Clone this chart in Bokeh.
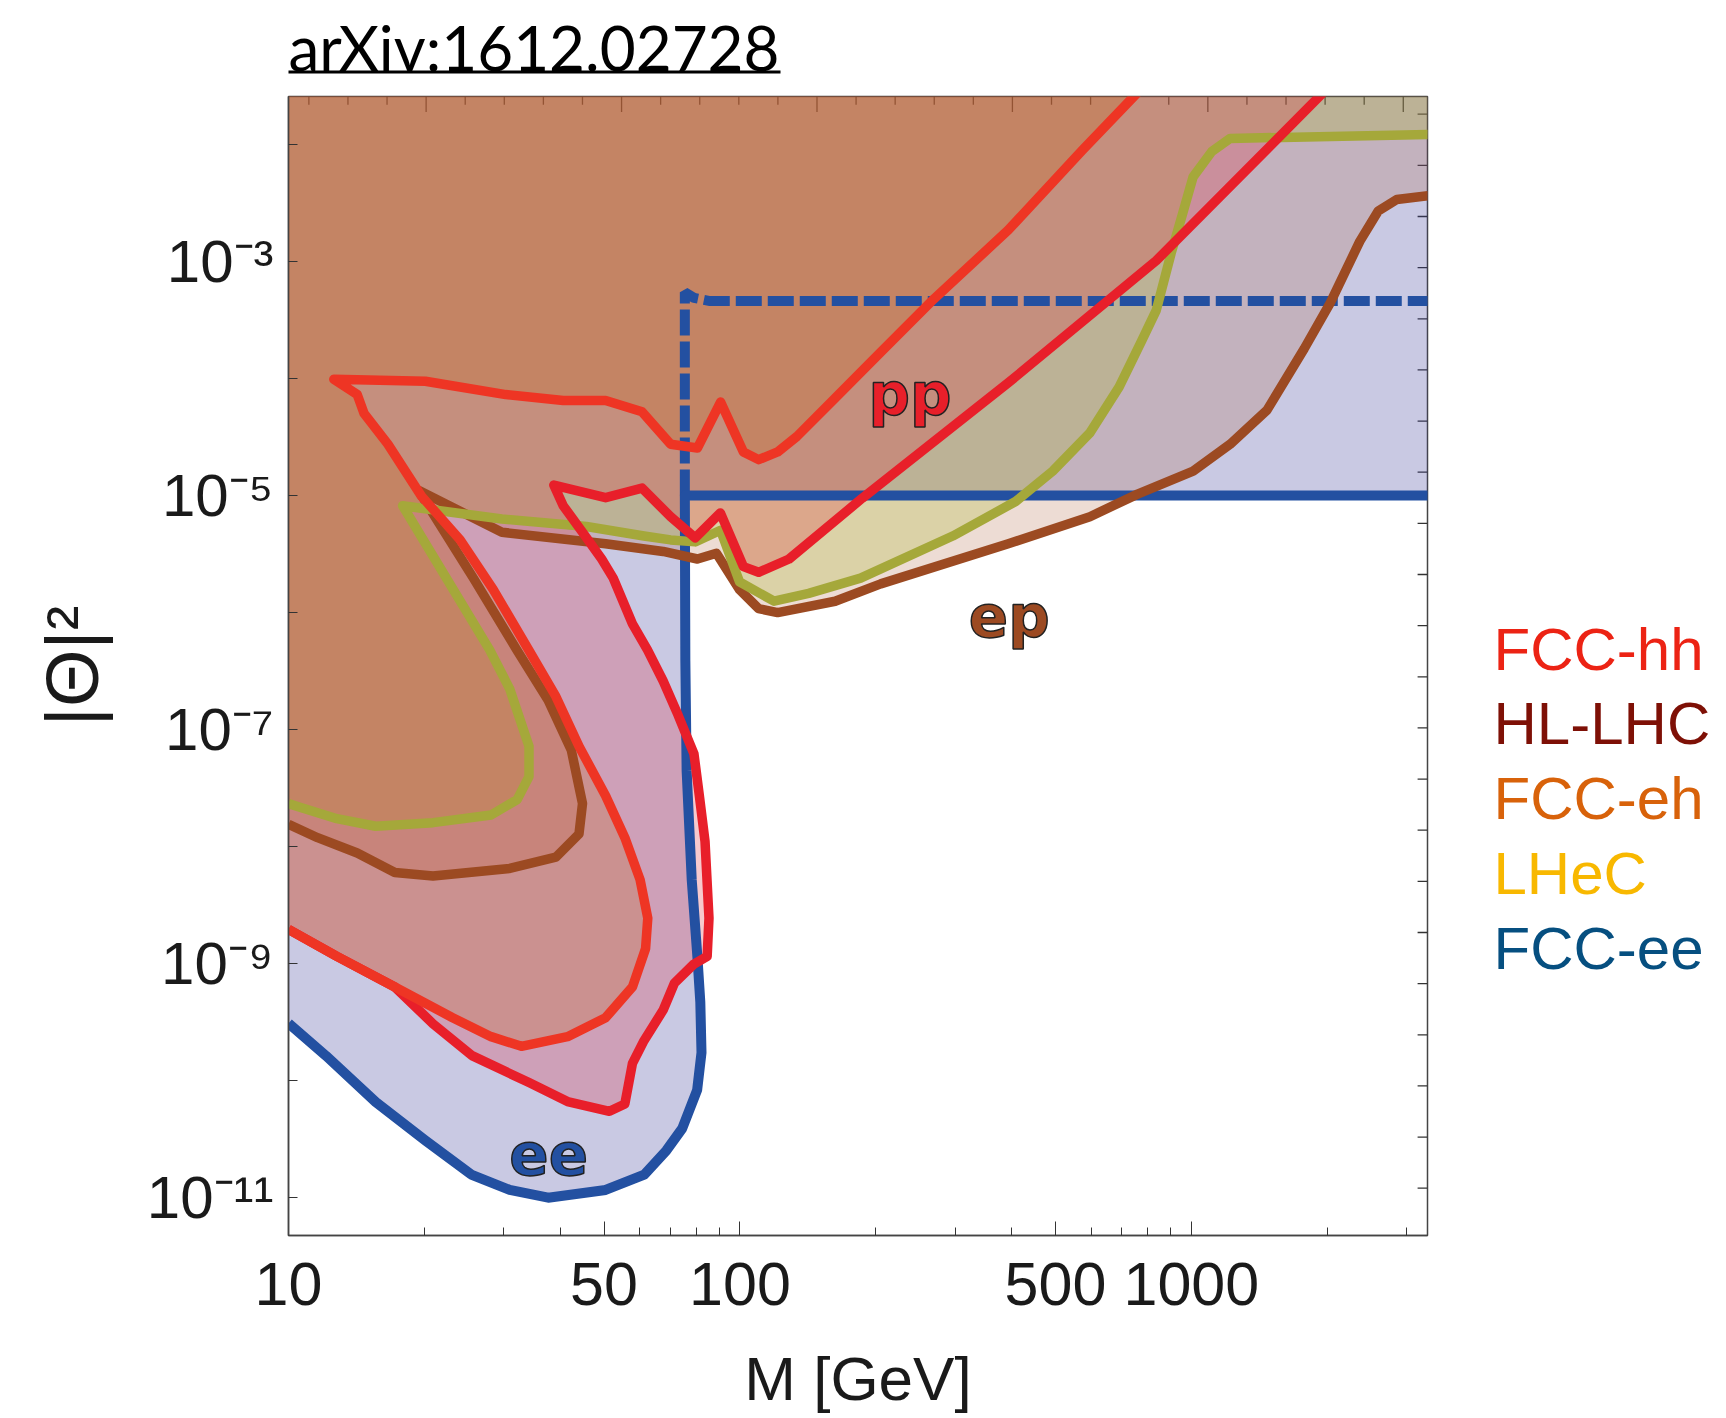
from bokeh.plotting import figure
from bokeh.layouts import column, row
from bokeh.models import FixedTicker, Range1d, LinearScale
from bokeh.embed import file_html
from bokeh.resources import INLINE
from bokeh.core.properties import value

# ---------------- data (M in GeV, |Theta|^2) ----------------
# FCC-ee (ee), solid contour
ee_m = [10, 12.1, 15.6, 20.1, 25.4, 30.9, 37.6, 50.4, 61.4, 68.7, 74.5, 80.4, 82.2, 81.7,
        80.5, 78.2, 76.2, 75.7, 75.5, 3400]
ee_t = [3.08e-10, 1.63e-10, 6.55e-11, 3.07e-11, 1.57e-11, 1.16e-11, 9.95e-12, 1.16e-11,
        1.57e-11, 2.52e-11, 3.89e-11, 8.3e-11, 1.73e-10, 4.7e-10, 1.14e-9, 5.2e-9, 4.43e-8,
        3.86e-7, 1e-5, 1e-5]
# FCC-ee dashed contour
eed_m = [75.5, 75.5, 79.1, 85.9, 3400]
eed_t = [1e-5, 5.46e-4, 4.9e-4, 4.6e-4, 4.6e-4]

# pp, FCC-hh (crimson)
hh_m = [10, 12.8, 17.2, 20.9, 25.5, 34.1, 41.5, 51.4, 55.6, 57.8, 61.3, 67.6, 71.6, 79.1,
        84.6, 85.4, 83.7, 81.3, 79.1, 73.0, 67.6, 62.4, 57.8, 52.4, 49.4, 44.8, 40.6, 38.7,
        50.4, 60.7, 70.2, 79.6, 90.5, 101.8, 110, 128.5, 186.6, 393, 836, 1919, 2432]
hh_t = [1.96e-9, 1.15e-9, 6.3e-10, 3.05e-10, 1.63e-10, 9.6e-11, 6.6e-11, 5.45e-11, 6.3e-11,
        1.4e-10, 2.19e-10, 4.0e-10, 6.8e-10, 9.9e-10, 1.15e-9, 2.44e-9, 1.1e-8, 2.72e-8,
        6.2e-8, 1.32e-7, 2.6e-7, 4.8e-7, 8.0e-7, 1.97e-6, 2.87e-6, 4.86e-6, 8.2e-6, 1.23e-5,
        9.6e-6, 1.16e-5, 6.6e-6, 4.35e-6, 7.1e-6, 2.47e-6, 2.21e-6, 2.87e-6, 9.5e-6, 9.2e-5,
        1.02e-3, 2.57e-2, 6.5e-2]

# pp, HL-LHC (orange-red)
hl_m = [10, 12.8, 17.2, 23.1, 28.1, 32.8, 41.5, 50.4, 57.8, 61.8, 62.5, 60.1, 55.6, 50.4,
        44.0, 39.1, 34.1, 28.4, 24.0, 19.7, 16.6, 14.7, 14.2, 12.6, 20.1, 30.3, 40.6, 50.4,
        60.7, 70.2, 80.5, 90.6, 101.8, 110, 121.2, 133.7, 162.5, 204.6, 269, 393, 574, 747, 940]
hl_t = [1.96e-9, 1.15e-9, 6.3e-10, 3.44e-10, 2.37e-10, 1.96e-10, 2.37e-10, 3.44e-10, 6.3e-10,
        1.34e-9, 2.44e-9, 5.2e-9, 1.19e-8, 2.72e-8, 7.2e-8, 1.92e-7, 4.74e-7, 1.58e-6, 4.18e-6,
        9.9e-6, 2.75e-5, 5.04e-5, 7.3e-5, 9.87e-5, 9.5e-5, 7.3e-5, 6.5e-5, 6.5e-5, 5.2e-5,
        2.75e-5, 2.55e-5, 6.3e-5, 2.36e-5, 2.03e-5, 2.36e-5, 3.2e-5, 6.8e-5, 1.67e-4, 4.8e-4,
        1.86e-3, 9.0e-3, 2.6e-2, 6.5e-2]

# ep, FCC-eh (brown)
eh_m = [10, 11.6, 14.2, 17.2, 20.9, 30.9, 39.1, 44.0, 44.8, 42.3, 37.6, 32.1, 25.7, 19.4,
        29.7, 50.4, 67.6, 80.5, 88.7, 99.8, 110, 121.2, 162.5, 205, 393, 596, 760, 1009,
        1219, 1472, 1778, 2031, 2361, 2594, 2851, 3342, 3500]
eh_t = [1.55e-8, 1.19e-8, 8.8e-9, 6.0e-9, 5.6e-9, 6.5e-9, 8.1e-9, 1.28e-8, 2.33e-8, 6.7e-8,
        1.78e-7, 4.74e-7, 1.96e-6, 1.11e-5, 4.86e-6, 3.88e-6, 3.33e-6, 2.87e-6, 3.21e-6,
        1.57e-6, 1.08e-6, 1.0e-6, 1.25e-6, 1.76e-6, 3.88e-6, 6.6e-6, 1.03e-5, 1.62e-5,
        2.75e-5, 5.4e-5, 1.8e-4, 4.44e-4, 1.49e-3, 2.71e-3, 3.4e-3, 3.66e-3, 3.66e-3]

# ep, LHeC (olive)
lh_m = [10, 10.6, 12.8, 15.6, 20.9, 28.1, 32.1, 34.1, 34.1, 30.9, 27.9, 17.9, 29.7, 45.7,
        61.3, 70.2, 79.6, 90.6, 99.8, 119, 142, 185, 296, 408, 493, 596, 692, 776, 836, 902,
        955, 1009, 1109, 1219, 3342, 3500]
lh_t = [2.33e-8, 2.17e-8, 1.73e-8, 1.49e-8, 1.6e-8, 1.86e-8, 2.52e-8, 3.96e-8, 7.2e-8,
        2.23e-7, 4.8e-7, 8.2e-6, 6.3e-6, 5.44e-6, 4.51e-6, 4.18e-6, 4.02e-6, 5.05e-6, 1.83e-6,
        1.25e-6, 1.46e-6, 1.97e-6, 4.51e-6, 8.9e-6, 1.62e-5, 3.44e-5, 8.5e-5, 2.1e-4,
        3.83e-4, 1.18e-3, 2.52e-3, 5.3e-3, 8.7e-3, 1.13e-2, 1.22e-2, 1.22e-2]

# in-plot labels
label_text = ["pp", "ep", "ee"]
label_m = [238, 395, 37.7]
label_t = [7.2e-5, 9.2e-7, 2.37e-11]
label_colors = ["#E81F2A", "#9C4A22", "#2350A1"]

# legend texts
legend_names = ["FCC-hh", "HL-LHC", "FCC-eh", "LHeC", "FCC-ee"]
legend_colors = ["#EC2314", "#7E1006", "#D8620A", "#F8B800", "#064F80"]

# axis ticks
x_major = [10, 50, 100, 500, 1000]
x_labels = ["10", "50", "100", "500", "1000"]
x_minor = [20, 30, 40, 60, 70, 80, 90, 200, 300, 400, 600, 700, 800, 900, 2000, 3000]
y_major = [1e-11, 1e-9, 1e-7, 1e-5, 1e-3]
y_labels = ["10⁻¹¹", "10⁻⁹", "10⁻⁷", "10⁻⁵", "10⁻³"]
y_minor = [1e-10, 1e-8, 1e-6, 1e-4, 1e-2]

TITLE_H = 88
MAIN_W = 1457
MAIN_H = 1418 - TITLE_H
LEG_W = 1726 - MAIN_W
FRAME_TOP = 96
FRAME_BOTTOM = 1235
TEXT_SHIFT = 19   # compensation for the rendered baseline offset

# ---------------- title strip ----------------
pt = figure(width=1726, height=TITLE_H, x_range=Range1d(0, 1726), y_range=Range1d(0, TITLE_H),
            output_backend="svg", toolbar_location=None, x_axis_location=None,
            y_axis_location=None, min_border=0, outline_line_color=None)
pt.grid.visible = False
pt.text(x=[288], y=[TITLE_H - 65 + TEXT_SHIFT], text=["arXiv:1612.02728"], text_font=value("Lato"),
        text_font_size="62px", text_color="black", text_baseline="alphabetic", text_align="left")
pt.segment(x0=[288], y0=[TITLE_H - 71.5], x1=[780], y1=[TITLE_H - 71.5],
           line_color="black", line_width=3.2)

# ---------------- main figure ----------------
p = figure(width=MAIN_W, height=MAIN_H, x_axis_type="log", y_axis_type="log",
           x_range=(10, 3335), y_range=(4.73e-12, 0.0258),
           output_backend="svg", toolbar_location=None,
           min_border_left=288, min_border_right=MAIN_W - 1427,
           min_border_top=FRAME_TOP - TITLE_H, min_border_bottom=1418 - FRAME_BOTTOM)
p.grid.visible = False
p.outline_line_color = "#444444"
p.outline_line_width = 1.5
p.background_fill_color = "white"
p.border_fill_color = "white"

xa = p.below[0]
ya = p.left[0]
xa.ticker = FixedTicker(ticks=x_major, minor_ticks=x_minor)
xa.major_label_overrides = {v: s for v, s in zip(x_major, x_labels)}
ya.ticker = FixedTicker(ticks=y_major, minor_ticks=y_minor)
ya.major_label_overrides = {v: s for v, s in zip(y_major, y_labels)}
for ax in (xa, ya):
    ax.major_label_text_font = "Liberation Sans"
    ax.major_label_text_color = "#1a1a1a"
    ax.axis_line_color = "#444444"
    ax.axis_line_width = 1.5
    ax.major_tick_line_color = "#333333"
    ax.minor_tick_line_color = "#333333"
    ax.major_tick_out = 0
    ax.minor_tick_out = 0
    ax.axis_label_text_font = "Liberation Sans"
    ax.axis_label_text_font_style = "normal"
    ax.axis_label_text_color = "#1a1a1a"
xa.major_label_text_font_size = "61px"
ya.major_label_text_font_size = "60px"
xa.axis_label_text_font_size = "62px"
ya.axis_label_text_font_size = "74px"
xa.major_tick_in = 14
xa.minor_tick_in = 8
ya.major_tick_in = 9
ya.minor_tick_in = 9
xa.axis_label = "M [GeV]"
ya.axis_label = "|Θ|²"
xa.major_label_standoff = 27
xa.axis_label_standoff = 36
ya.major_label_standoff = 15
ya.axis_label_standoff = 30

# decorative frame ticks on top and right (frame-pixel ranges)
p.extra_x_ranges = {"top": Range1d(0, 1034.5)}
p.extra_x_scales = {"top": LinearScale()}
p.extra_y_ranges = {"right": Range1d(0, 1035.6)}
p.extra_y_scales = {"right": LinearScale()}
top_major = [125 + 177.5 * j for j in range(6)]
top_minor = [125 + 35.5 * k for k in range(-3, 26) if k % 5 != 0]
p.segment(x0=top_major, y0=[1035.6] * len(top_major), x1=top_major,
          y1=[1035.6 - 14] * len(top_major), x_range_name="top", y_range_name="right",
          line_color="#333333", line_width=1.3)
p.segment(x0=top_minor, y0=[1035.6] * len(top_minor), x1=top_minor,
          y1=[1035.6 - 7.5] * len(top_minor), x_range_name="top", y_range_name="right",
          line_color="#333333", line_width=1.3)
right_ticks = [1019.5 - 46.5 * k for k in range(22)]
p.segment(x0=[1034.5] * len(right_ticks), y0=right_ticks, x1=[1034.5 - 9] * len(right_ticks),
          y1=right_ticks, x_range_name="top", y_range_name="right",
          line_color="#333333", line_width=1.3)

# ---------------- filled regions (all open to the upper left) ----------------
def region(m, t):
    xs = [5] + list(m) + [m[-1], 5]
    ys = [t[0]] + list(t) + [1.0, 1.0]
    return xs, ys

fills = [
    (ee_m, ee_t, "#3C3C9B", 0.28),
    (eh_m, eh_t, "#AF5F3C", 0.22),
    (lh_m, lh_t, "#A8B41E", 0.25),
    (hh_m, hh_t, "#E12837", 0.25),
    (hl_m, hl_t, "#C36216", 0.25),
]
for m, t, c, a in fills:
    xs, ys = region(m, t)
    p.patch(xs, ys, fill_color=c, fill_alpha=a, line_color=None)

# ---------------- contour lines ----------------
p.line(eed_m, eed_t, line_color="#2350A1", line_width=10, line_dash="26 6")
p.line(ee_m, ee_t, line_color="#2350A1", line_width=10, line_join="round")
p.line(eh_m, eh_t, line_color="#9C4A22", line_width=9.5, line_join="round")
p.line(lh_m, lh_t, line_color="#A5A83A", line_width=9.5, line_join="round")
p.line(hh_m, hh_t, line_color="#E81F2A", line_width=9.5, line_join="round")
p.line(hl_m, hl_t, line_color="#EE3524", line_width=9.5, line_join="round")

p.text(x=label_m, y=label_t, text=label_text, text_color=label_colors,
       text_outline_color="#222222", text_font=value("DejaVu Sans"), text_font_style="bold",
       text_font_size="58px", text_align="center", text_baseline="alphabetic")

# ---------------- legend strip on the right ----------------
# its frame is aligned with the main frame by the row layout (page y 96..1235)
pl = figure(width=LEG_W, height=MAIN_H, x_range=Range1d(0, LEG_W),
            y_range=Range1d(0, FRAME_BOTTOM - FRAME_TOP),
            output_backend="svg", toolbar_location=None, x_axis_location=None,
            y_axis_location=None, min_border=0, outline_line_color=None)
pl.grid.visible = False
legend_baselines = [668, 741.7, 816.7, 891.7, 966.7]   # page px from the top
pl.text(x=[36] * len(legend_names),
        y=[FRAME_BOTTOM - b + TEXT_SHIFT for b in legend_baselines], text=legend_names,
        text_color=legend_colors, text_font=value("Liberation Sans"), text_font_size="60px",
        text_baseline="alphabetic", text_align="left")

layout = column(pt, row(p, pl, spacing=0), spacing=0)
open("out.html", "w").write(file_html(layout, INLINE))
